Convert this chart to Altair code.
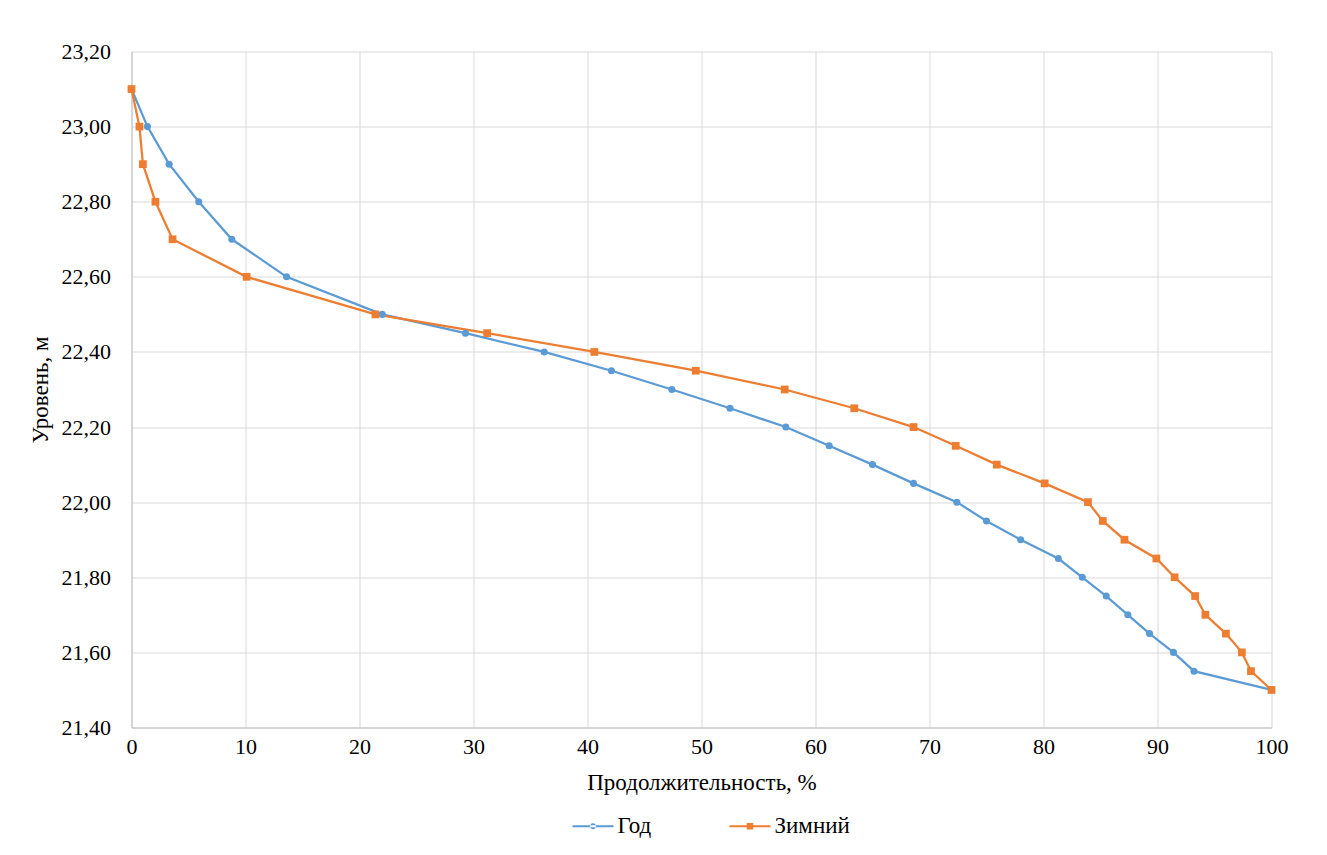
import altair as alt
import pandas as pd

# Год (annual)
god_x = [0, 1.4, 3.3, 5.9, 8.8, 13.6, 22.0, 29.3, 36.2, 42.1, 47.4, 52.5, 57.4, 61.2, 65.0,
         68.6, 72.4, 75.0, 78.0, 81.3, 83.4, 85.5, 87.4, 89.3, 91.4, 93.2, 100]
god_y = [23.10, 23.00, 22.90, 22.80, 22.70, 22.60, 22.50, 22.45, 22.40, 22.35, 22.30, 22.25,
         22.20, 22.15, 22.10, 22.05, 22.00, 21.95, 21.90, 21.85, 21.80, 21.75, 21.70, 21.65,
         21.60, 21.55, 21.50]

# Зимний (winter)
zim_x = [0, 0.7, 1.0, 2.1, 3.6, 10.1, 21.4, 31.2, 40.6, 49.5, 57.3, 63.4, 68.6, 72.3, 75.9,
         80.1, 83.9, 85.2, 87.1, 89.9, 91.5, 93.3, 94.2, 96.0, 97.4, 98.2, 100]
zim_y = [23.10, 23.00, 22.90, 22.80, 22.70, 22.60, 22.50, 22.45, 22.40, 22.35, 22.30, 22.25,
         22.20, 22.15, 22.10, 22.05, 22.00, 21.95, 21.90, 21.85, 21.80, 21.75, 21.70, 21.65,
         21.60, 21.55, 21.50]

series_names = ["Год", "Зимний"]
series_colors = ["#5B9BD5", "#ED7D31"]
x_ticks = list(range(0, 101, 10))
y_ticks = [21.4, 21.6, 21.8, 22.0, 22.2, 22.4, 22.6, 22.8, 23.0, 23.2]

df = pd.concat([
    pd.DataFrame({"x": god_x, "y": god_y, "series": series_names[0]}),
    pd.DataFrame({"x": zim_x, "y": zim_y, "series": series_names[1]}),
], ignore_index=True)

FONT = "Liberation Serif"
FS_LABEL = 22
FS_TITLE = 23

x_enc = alt.X("x:Q",
              scale=alt.Scale(domain=[0, 100], nice=False, zero=False),
              axis=alt.Axis(values=x_ticks, title="Продолжительность, %",
                            labelPadding=9, titlePadding=14, format="d",
                            labelFlush=False))
y_enc = alt.Y("y:Q",
              scale=alt.Scale(domain=[21.4, 23.2], nice=False, zero=False),
              axis=alt.Axis(values=y_ticks, title="Уровень, м",
                            labelExpr="replace(format(datum.value, '.2f'), '.', ',')",
                            labelPadding=21, titlePadding=9, labelFlush=False))

base = alt.Chart(df).encode(x=x_enc, y=y_enc)

line_god = base.transform_filter(alt.datum.series == series_names[0]).mark_line(
    color=series_colors[0], strokeWidth=2.25)
line_zim = base.transform_filter(alt.datum.series == series_names[1]).mark_line(
    color=series_colors[1], strokeWidth=2.25)
pts_god = base.transform_filter(alt.datum.series == series_names[0]).mark_point(
    shape="circle", filled=True, size=50, color=series_colors[0], opacity=1)
pts_zim = base.transform_filter(alt.datum.series == series_names[1]).mark_point(
    shape="square", filled=True, size=60, color=series_colors[1], opacity=1)

sym_circle = ("M-2.5,-0.13H2.5V0.13H-2.5Z "
              "M-0.36,0A0.36,0.36 0 1,0 0.36,0A0.36,0.36 0 1,0 -0.36,0Z")
sym_square = ("M-2.5,-0.13H2.5V0.13H-2.5Z "
              "M-0.4,-0.4H0.4V0.4H-0.4Z")

legend = alt.Legend(title=None, orient="none", direction="horizontal",
                    legendX=450, legendY=763, symbolSize=269, symbolStrokeWidth=0,
                    labelOffset=13, columnPadding=77, labelFont=FONT, labelFontSize=FS_TITLE,
                    labelColor="black", symbolOpacity=1)

legend_layer = base.transform_filter("datum.x < -1000").mark_point(filled=True).encode(
    color=alt.Color("series:N", scale=alt.Scale(domain=series_names, range=series_colors),
                    legend=legend),
    shape=alt.Shape("series:N", scale=alt.Scale(domain=series_names,
                                                range=[sym_circle, sym_square]),
                    legend=legend),
)

chart = alt.layer(line_god, line_zim, pts_god, pts_zim, legend_layer).properties(
    width=1140, height=676,
    autosize=alt.AutoSizeParams(type="none"),
    padding={"left": 123.5, "top": 43.5, "right": 40, "bottom": 125},
).configure(font=FONT).configure_view(strokeWidth=0).configure_axis(
    grid=True, gridColor="#D9D9D9", gridWidth=1,
    domainColor="#BFBFBF", domainWidth=1,
    ticks=False, tickSize=0,
    labelFont=FONT, labelFontSize=FS_LABEL, labelColor="black",
    titleFont=FONT, titleFontSize=FS_TITLE, titleColor="black", titleFontWeight="normal",
).configure_legend(labelFont=FONT)

chart.save("out.html", embed_options={"renderer": "svg", "actions": False})
